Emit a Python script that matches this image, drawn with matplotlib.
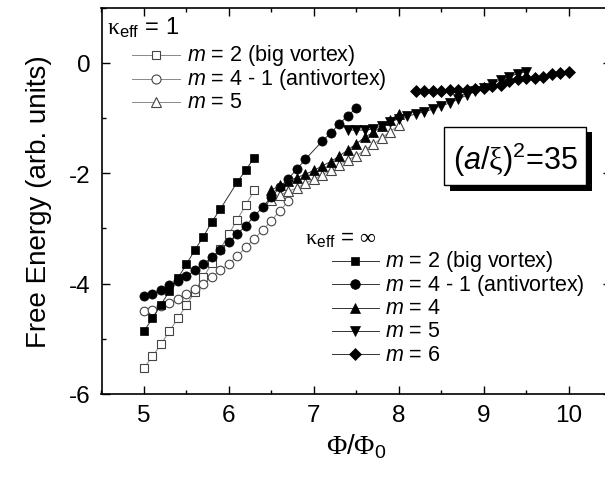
import matplotlib
matplotlib.use('Agg')
import matplotlib.pyplot as plt
from matplotlib.lines import Line2D
from matplotlib.patches import Rectangle

plt.rcParams['font.family'] = ['Liberation Sans', 'DejaVu Sans']
plt.rcParams['mathtext.fontset'] = 'custom'
plt.rcParams['mathtext.rm'] = 'Liberation Sans'
plt.rcParams['mathtext.it'] = 'Liberation Sans:italic'
plt.rcParams['mathtext.sf'] = 'Liberation Serif'
plt.rcParams['mathtext.bf'] = 'Liberation Sans:bold'
plt.rcParams['axes.unicode_minus'] = False

# ---------------- data ----------------
# kappa_eff = 1 (open symbols)
x_m2_k1 = [5.0, 5.1, 5.2, 5.3, 5.4, 5.5, 5.6, 5.7, 5.8, 5.9, 6.0, 6.1, 6.2, 6.3]
y_m2_k1 = [-5.53, -5.32, -5.10, -4.86, -4.63, -4.39, -4.15, -3.89, -3.63, -3.37,
           -3.10, -2.84, -2.57, -2.31]

x_m41_k1 = [5.0, 5.1, 5.2, 5.3, 5.4, 5.5, 5.6, 5.7, 5.8, 5.9, 6.0, 6.1, 6.2, 6.3,
            6.4, 6.5, 6.6, 6.7]
y_m41_k1 = [-4.50, -4.47, -4.41, -4.35, -4.28, -4.18, -4.09, -4.00, -3.88, -3.76,
            -3.64, -3.50, -3.34, -3.19, -3.03, -2.86, -2.68, -2.51]

x_m5_k1 = [6.5, 6.6, 6.7, 6.8, 6.9, 7.0, 7.1, 7.2, 7.3, 7.4, 7.5, 7.6, 7.7, 7.8, 7.9, 8.0]
y_m5_k1 = [-2.48, -2.40, -2.33, -2.27, -2.18, -2.11, -2.03, -1.94, -1.85, -1.76,
           -1.69, -1.58, -1.48, -1.36, -1.25, -1.13]

# kappa_eff = infinity (filled symbols)
x_m2_inf = [5.0, 5.1, 5.2, 5.3, 5.4, 5.5, 5.6, 5.7, 5.8, 5.9, 6.1, 6.2, 6.3]
y_m2_inf = [-4.86, -4.63, -4.38, -4.14, -3.90, -3.65, -3.39, -3.15, -2.88, -2.65,
            -2.16, -1.94, -1.72]

x_m41_inf = [5.0, 5.1, 5.2, 5.3, 5.4, 5.5, 5.6, 5.7, 5.8, 5.9, 6.0, 6.1, 6.2, 6.3,
             6.4, 6.5, 6.6, 6.7, 6.8, 6.9, 7.1, 7.2, 7.3, 7.4, 7.5]
y_m41_inf = [-4.22, -4.18, -4.12, -4.03, -3.96, -3.87, -3.76, -3.65, -3.52, -3.39,
             -3.25, -3.10, -2.95, -2.78, -2.61, -2.43, -2.26, -2.10, -1.93, -1.75,
             -1.42, -1.27, -1.11, -0.96, -0.82]

x_m4_inf = [6.5, 6.6, 6.7, 6.8, 6.9, 7.0, 7.1, 7.2, 7.3, 7.4, 7.5, 7.6, 7.7, 7.8, 7.9, 8.0]
y_m4_inf = [-2.31, -2.22, -2.14, -2.08, -2.02, -1.95, -1.87, -1.79, -1.69, -1.58,
            -1.47, -1.35, -1.26, -1.15, -1.04, -0.92]

x_m5_inf = [7.4, 7.5, 7.6, 7.7, 7.8, 7.9, 8.0, 8.1, 8.2, 8.3, 8.4, 8.5, 8.6, 8.7,
            8.8, 8.9, 9.0, 9.1, 9.2, 9.3, 9.4, 9.5]
y_m5_inf = [-1.22, -1.22, -1.22, -1.20, -1.14, -1.07, -1.02, -0.97, -0.93, -0.89,
            -0.84, -0.78, -0.73, -0.66, -0.59, -0.52, -0.45, -0.38, -0.31, -0.25,
            -0.20, -0.16]

x_m6_inf = [8.2, 8.3, 8.4, 8.5, 8.6, 8.7, 8.8, 8.9, 9.0, 9.1, 9.2, 9.3, 9.4, 9.5,
            9.6, 9.7, 9.8, 9.9, 10.0]
y_m6_inf = [-0.52, -0.52, -0.52, -0.51, -0.49, -0.49, -0.49, -0.48, -0.46, -0.43,
            -0.40, -0.34, -0.30, -0.28, -0.28, -0.25, -0.21, -0.19, -0.16]

labels_k1 = ['$m$ = 2 (big vortex)', '$m$ = 4 - 1 (antivortex)', '$m$ = 5']
labels_inf = ['$m$ = 2 (big vortex)', '$m$ = 4 - 1 (antivortex)', '$m$ = 4',
              '$m$ = 5', '$m$ = 6']
xticks = [5, 6, 7, 8, 9, 10]
yticks = [-6, -4, -2, 0]

# ---------------- figure ----------------
W, H = 605, 481
fig = plt.figure(figsize=(W / 100, H / 100), dpi=100)

def fx(px):
    return px / W

def fy(py):
    return 1 - py / H

L, R, T, B = 101.5, 611.0, 8.5, 395.0
ax = fig.add_axes([fx(L), fy(B), (R - L) / W, (B - T) / H])

open_edge = '#444444'
open_line = '#888888'
fill_line = '#333333'

open_styles = [
    dict(marker='s', ms=5.8),
    dict(marker='o', ms=6.2),
    dict(marker='^', ms=6.8),
]
fill_styles = [
    dict(marker='s', ms=5.8),
    dict(marker='o', ms=6.6),
    dict(marker='^', ms=7.2),
    dict(marker='v', ms=7.2),
    dict(marker='D', ms=5.8),
]

open_series = [(x_m2_k1, y_m2_k1), (x_m41_k1, y_m41_k1), (x_m5_k1, y_m5_k1)]
fill_series = [(x_m2_inf, y_m2_inf), (x_m41_inf, y_m41_inf), (x_m4_inf, y_m4_inf),
               (x_m5_inf, y_m5_inf), (x_m6_inf, y_m6_inf)]

for (xs, ys), st in zip(open_series, open_styles):
    ax.plot(xs, ys, color=open_line, lw=0.7, mfc='white', mec=open_edge,
            mew=0.8, zorder=2, **st)
for (xs, ys), st in zip(fill_series, fill_styles):
    ax.plot(xs, ys, color=fill_line, lw=0.7, mfc='black', mec='black',
            mew=0.5, zorder=3, **st)

ax.set_xlim(4.5, 10.5)
ax.set_ylim(-6, 1)
ax.set_xticks(xticks)
ax.set_yticks(yticks)
ax.set_xticks([4.5, 5.5, 6.5, 7.5, 8.5, 9.5, 10.5], minor=True)
ax.set_yticks([-5, -3, -1, 1], minor=True)
ax.tick_params(which='both', direction='in', top=True, right=True, width=1.0,
               labelsize=17.5)
ax.tick_params(which='major', length=6)
ax.tick_params(which='minor', length=3)
ax.tick_params(axis='x', pad=7)
ax.tick_params(axis='y', pad=8)
for sp in ax.spines.values():
    sp.set_linewidth(1.2)

ax.set_ylabel('Free Energy (arb. units)', fontsize=20, labelpad=12)
ax.set_xlabel(r'$\mathsf{\Phi}$/$\mathsf{\Phi}_{\mathregular{0}}$', fontsize=20,
              labelpad=4)

# ---------------- legends (manual) ----------------
leg_fs = 15.5

def legend_entry(y, x0, x1, xt, st, label, filled):
    if filled:
        kw = dict(color=fill_line, mfc='black', mec='black', mew=0.5)
    else:
        kw = dict(color=open_line, mfc='white', mec=open_edge, mew=0.8)
    fig.add_artist(Line2D([fx(x0), fx(x1)], [fy(y), fy(y)], lw=0.7,
                          transform=fig.transFigure, **kw))
    fig.add_artist(Line2D([fx((x0 + x1) / 2)], [fy(y)], lw=0,
                          transform=fig.transFigure, marker=st['marker'],
                          ms=st['ms'] * 1.05, **kw))
    fig.text(fx(xt), fy(y), label, fontsize=leg_fs, va='center', ha='left')

fig.text(fx(107), fy(28), r'$\mathsf{κ}_{\mathregular{eff}}$ = 1', fontsize=17,
         va='center', ha='left')
for i, (lab, st) in enumerate(zip(labels_k1, open_styles)):
    legend_entry(56 + i * 23.5, 131.5, 180, 187, st, lab, False)

fig.text(fx(305), fy(240), r'$\mathsf{κ}_{\mathregular{eff}}$ = $\mathsf{∞}$',
         fontsize=16, va='center', ha='left')
for i, (lab, st) in enumerate(zip(labels_inf, fill_styles)):
    legend_entry(262 + i * 23.3, 331.5, 378.5, 385, st, lab, True)

# ---------------- parameter box with shadow ----------------
bx0, by0, bx1, by1 = 444.3, 127.7, 586.0, 186.0
sh = 5.5
fig.add_artist(Rectangle((fx(bx0 + sh), fy(by1 + sh)), (bx1 - bx0) / W,
                         (by1 - by0) / H, transform=fig.transFigure,
                         facecolor='black', edgecolor='black', lw=0, zorder=5))
fig.add_artist(Rectangle((fx(bx0), fy(by1)), (bx1 - bx0) / W, (by1 - by0) / H,
                         transform=fig.transFigure, facecolor='white',
                         edgecolor='black', lw=1.0, zorder=6))
fig.text(fx((bx0 + bx1) / 2), fy(170),
         r'($\mathit{a}$/$\mathsf{ξ}$)$^{\mathregular{2}}$=35',
         fontsize=22, ha='center', va='baseline', zorder=7)

fig.savefig('out.png', dpi=100)
